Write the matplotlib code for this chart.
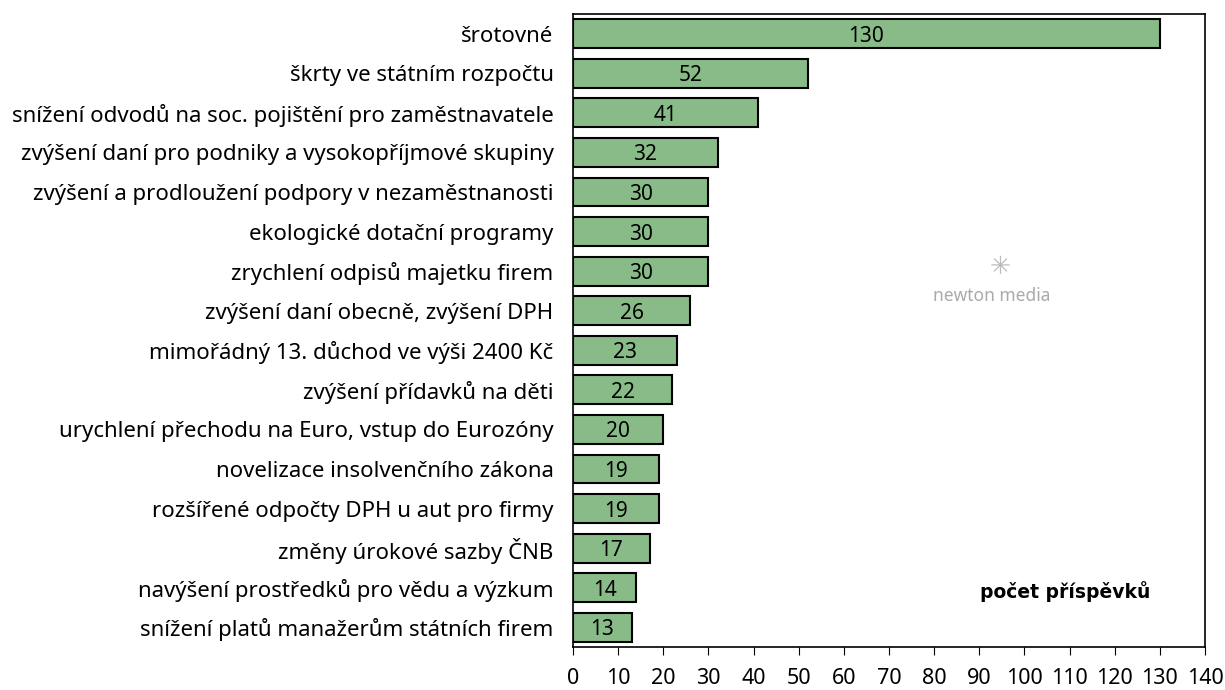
import matplotlib.pyplot as plt

plt.rcParams['font.family'] = ['Noto Sans', 'DejaVu Sans']

categories = [
    "šrotovné",
    "škrty ve státním rozpočtu",
    "snížení odvodů na soc. pojištění pro zaměstnavatele",
    "zvýšení daní pro podniky a vysokopříjmové skupiny",
    "zvýšení a prodloužení podpory v nezaměstnanosti",
    "ekologické dotační programy",
    "zrychlení odpisů majetku firem",
    "zvýšení daní obecně, zvýšení DPH",
    "mimořádný 13. důchod ve výši 2400 Kč",
    "zvýšení přídavků na děti",
    "urychlení přechodu na Euro, vstup do Eurozóny",
    "novelizace insolvenčního zákona",
    "rozšířené odpočty DPH u aut pro firmy",
    "změny úrokové sazby ČNB",
    "navýšení prostředků pro vědu a výzkum",
    "snížení platů manažerům státních firem",
]
values = [130, 52, 41, 32, 30, 30, 30, 26, 23, 22, 20, 19, 19, 17, 14, 13]
xticks = list(range(0, 141, 10))

fig = plt.figure(figsize=(12.25, 6.9), dpi=100)
ax = fig.add_axes([0.4678, 0.0623, 0.5159, 0.9174])

pos = list(range(len(categories)))
ax.barh(pos, values, height=0.73, color='#88bb88', edgecolor='black', linewidth=1.5)
for p, v in zip(pos, values):
    ax.text(v / 2, p, str(v), ha='center', va='center_baseline', fontsize=15)

ax.set_ylim(len(categories) - 0.5, -0.5)
ax.set_xlim(0, 140)
ax.set_yticks(pos)
ax.set_yticklabels(categories, fontsize=16)
ax.tick_params(axis='y', length=0, pad=14)
ax.set_xticks(xticks)
ax.tick_params(axis='x', labelsize=15.5, length=6, direction='out', pad=9)
for s in ax.spines.values():
    s.set_linewidth(1.2)

ax.text(0.778, 0.087, "počet příspěvků", transform=ax.transAxes, ha='center', va='center',
        fontsize=13.5, fontweight='bold', family='DejaVu Sans')
ax.text(0.662, 0.555, "newton media", transform=ax.transAxes, ha='center', va='center',
        fontsize=12.5, color='#aaaaaa')
ax.text(0.675, 0.60, "✳", transform=ax.transAxes, ha='center', va='center',
        fontsize=18, color='#bbbbbb', family='DejaVu Sans')

fig.savefig('out.png', dpi=100)
